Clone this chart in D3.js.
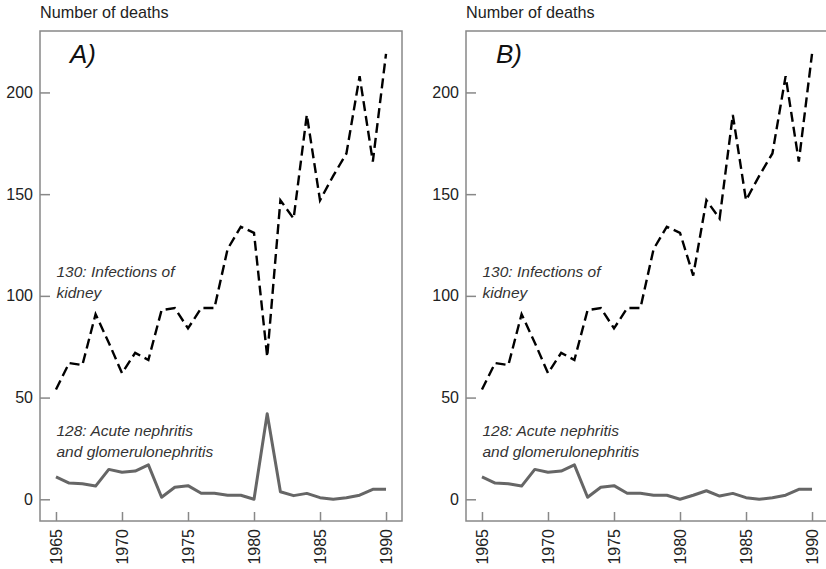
<!DOCTYPE html>
<html>
<head>
<meta charset="utf-8">
<script src="https://cdn.jsdelivr.net/npm/d3@7"></script>
<style>
	body { margin: 0; background: #fff; }
	svg { display: block; font-family: "Liberation Sans", Arial, sans-serif; }
	.tick line { stroke: #888; stroke-width: 1.5; }
	.tick text { fill: #222; }
</style>
</head>
<body>
<svg id="chart" width="826" height="569"></svg>
<script>
const years = d3.range(1965, 1991);
const yTicks = [0, 50, 100, 150, 200];
const xTicks = [1965, 1970, 1975, 1980, 1985, 1990];

// 130: Infections of kidney
const kidneyA = [54, 67, 66, 91, 77, 62, 72, 68.5, 93, 94, 84, 94, 94, 123, 134, 131,
	70, 147, 138, 189, 147, 159, 170, 208, 166, 219];
const kidneyB = [54, 67, 66, 91, 77, 62, 72, 68.5, 93, 94, 84, 94, 94, 123, 134, 131,
	110, 147, 138, 189, 147, 159, 170, 208, 166, 219];

// 128: Acute nephritis and glomerulonephritis
const nephritisA = [11, 8, 7.6, 6.5, 14.7, 13.3, 13.9, 16.9, 1, 5.9, 6.7, 3, 3, 2, 2, 0,
	42, 3.7, 1.8, 2.9, 0.8, 0, 0.8, 2, 4.9, 4.9];
const nephritisB = [11, 8, 7.6, 6.5, 14.7, 13.3, 13.9, 16.9, 1, 5.9, 6.7, 3, 3, 2, 2, 0,
	2, 4.2, 1.6, 2.9, 0.8, 0, 0.8, 2, 4.9, 4.9];

const svg = d3.select('#chart');

const drawPanel = ({ left, top=31, width=362, height=490, label, kidney, nephritis }) => {
	const g = svg.append('g').attr('transform', `translate(${left},${top})`);

	const xScale = d3.scaleLinear()
		.domain([1963.79, 1991.21])
		.range([0, width]);
	const yScale = d3.scaleLinear()
		.domain([-10.67, 230.2])
		.range([height, 0]);

	g.append('g')
		.attr('transform', `translate(0,${height})`)
		.call(d3.axisBottom(xScale).tickValues(xTicks).tickFormat(d3.format('d')).tickSize(-9))
		.attr('font-size', 16).attr('font-family', null)
		.call(a => a.select('.domain').remove())
		.selectAll('text')
		.attr('transform', 'rotate(-90)')
		.attr('text-anchor', 'end')
		.attr('x', -8)
		.attr('y', 0)
		.attr('dy', '0.35em');

	g.append('g')
		.call(d3.axisLeft(yScale).tickValues(yTicks).tickSize(-10).tickPadding(7))
		.attr('font-size', 16).attr('font-family', null)
		.call(a => a.select('.domain').remove());

	g.append('rect')
		.attr('width', width).attr('height', height)
		.attr('fill', 'none')
		.attr('stroke', '#888')
		.attr('stroke-width', 1.5);

	const line = d3.line()
		.x((d, i) => xScale(years[i]))
		.y(d => yScale(d));

	g.append('path')
		.datum(nephritis)
		.attr('d', line)
		.attr('fill', 'none')
		.attr('stroke', '#666')
		.attr('stroke-width', 3)
		.attr('stroke-linejoin', 'round');

	g.append('path')
		.datum(kidney)
		.attr('d', line)
		.attr('fill', 'none')
		.attr('stroke', '#000')
		.attr('stroke-width', 2.4)
		.attr('stroke-dasharray', '10,5');

	// titles and notes
	svg.append('text')
		.attr('x', left).attr('y', 18)
		.attr('font-size', 16.2).attr('fill', '#222')
		.text('Number of deaths');

	g.append('text')
		.attr('x', 30).attr('y', 32)
		.attr('font-size', 26).attr('font-style', 'italic').attr('fill', '#111')
		.text(label);

	const note = (lines, y) => {
		const t = g.append('text')
			.attr('x', 16.5).attr('y', y)
			.attr('font-size', 15.5).attr('font-style', 'italic').attr('fill', '#333');
		lines.forEach((s, i) => t.append('tspan').attr('x', 16.5).attr('dy', i ? 21 : 0).text(s));
	};
	note(['130: Infections of', 'kidney'], 245.5);
	note(['128: Acute nephritis', 'and glomerulonephritis'], 405);
};

drawPanel({ left: 40, label: 'A)', kidney: kidneyA, nephritis: nephritisA });
drawPanel({ left: 466, label: 'B)', kidney: kidneyB, nephritis: nephritisB });
</script>
</body>
</html>
